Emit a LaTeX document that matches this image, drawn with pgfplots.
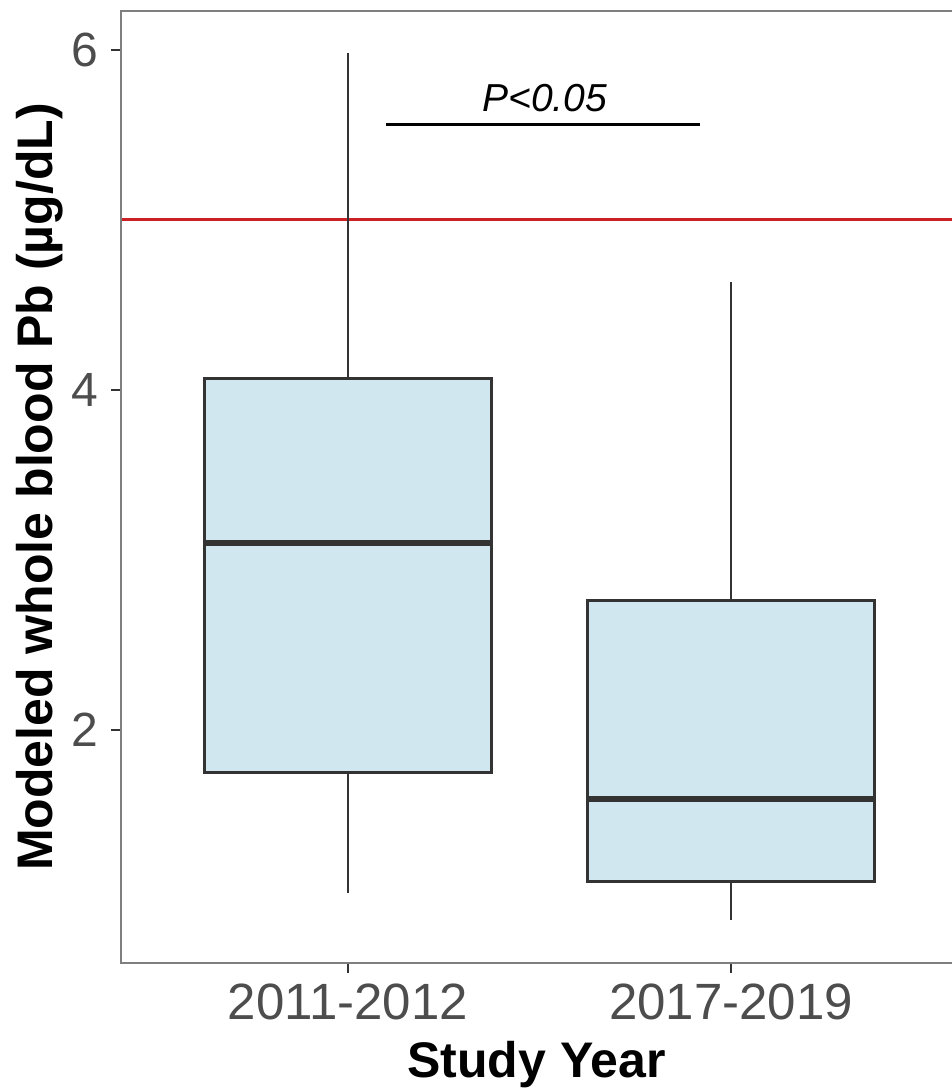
\documentclass[border=0pt]{standalone}
\usepackage{fontspec}
\setmainfont{Liberation Sans}
\usepackage{pgfplots}
\pgfplotsset{compat=1.18}
\usepgfplotslibrary{statistics}
\definecolor{boxfill}{RGB}{208,231,239}
\definecolor{boxline}{RGB}{51,51,51}
\definecolor{redline}{RGB}{204,32,39}
\definecolor{framegray}{RGB}{127,127,127}
\definecolor{ticklab}{RGB}{77,77,77}
\begin{document}
\begin{tikzpicture}
\begin{axis}[
  name=ax,
  at={(0,0)}, anchor=south west,
  scale only axis, width=415.5pt, height=476pt,
  xmin=0.4073, xmax=2.577, ymin=0.6294, ymax=6.229,
  axis line style={draw=none},
  clip=false,
  xtick={1,2}, xticklabels={2011-2012,2017-2019},
  ytick={2,4,6},
  xtick pos=bottom, ytick pos=left,
  tick align=outside, major tick length=5pt,
  minor tick num=0,
  tick style={boxline, line width=1pt},
  /pgf/number format/assume math mode=true,
  ticklabel style={text=ticklab},
  xticklabel style={font=\fontsize{25.5}{30}\selectfont, inner sep=0pt, anchor=north, yshift=-5pt},
  yticklabel style={font=\fontsize{24}{28}\selectfont, inner sep=0pt, anchor=east, xshift=-6pt},
  xlabel={Study Year},
  ylabel={Modeled whole blood Pb (µg/dL)},
  xlabel style={font=\fontsize{25}{30}\selectfont\bfseries, at={(axis description cs:0.5,-0.1198)}, anchor=base},
  ylabel style={font=\fontsize{25}{30}\selectfont\bfseries, at={(axis description cs:-0.0830,0.5)}, anchor=base},
  boxplot/draw direction=y,
]
\addplot[forget plot, redline, line width=1.5pt] coordinates {(0.4073,5) (2.577,5)};
\addplot[forget plot, draw=boxline, fill=boxfill, line width=1.5pt,
  boxplot/every whisker/.style={line width=1.2pt},
  boxplot/every median/.style={line width=3pt},
  boxplot prepared={draw position=1, lower whisker=1.041, lower quartile=1.747, median=3.097, upper quartile=4.069, upper whisker=5.982, box extend=0.75, whisker extend=0}]
  coordinates {};
\addplot[forget plot, draw=boxline, fill=boxfill, line width=1.5pt,
  boxplot/every whisker/.style={line width=1.2pt},
  boxplot/every median/.style={line width=3pt},
  boxplot prepared={draw position=2, lower whisker=0.882, lower quartile=1.108, median=1.594, upper quartile=2.759, upper whisker=4.635, box extend=0.75, whisker extend=0}]
  coordinates {};
\addplot[forget plot, black, line width=1.5pt] coordinates {(1.099,5.559) (1.919,5.559)};
\node[font=\fontsize{19.5}{23}\selectfont\itshape, anchor=base, inner sep=0pt] at (axis cs:1.514,5.635) {P<0.05};
\end{axis}
\draw[framegray, line width=1.2pt] (ax.north east) -- (ax.north west) -- (ax.south west) -- (ax.south east);
\pgfresetboundingbox
\useasboundingbox (-60.5pt,-62.5pt) rectangle (415.5pt,481.5pt);
\end{tikzpicture}
\end{document}
